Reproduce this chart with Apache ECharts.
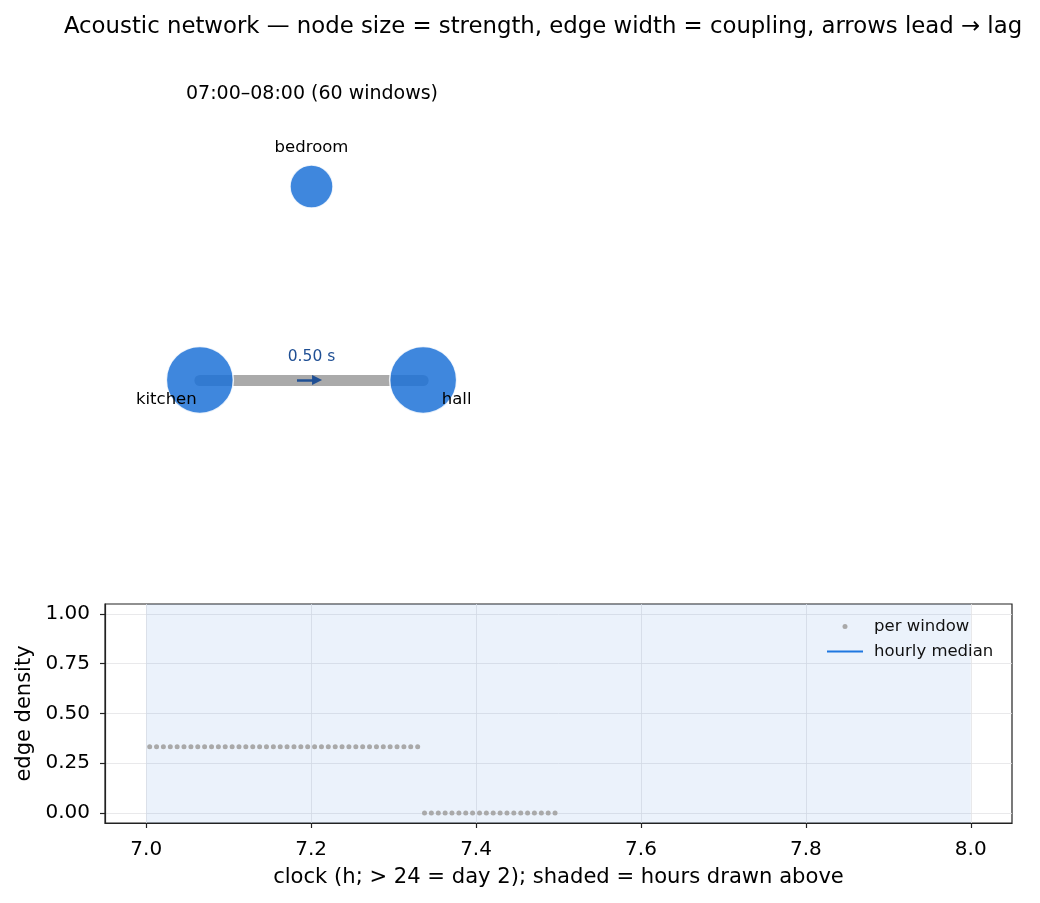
<!DOCTYPE html>
<html>
<head>
	<meta charset="utf-8">
	<title>acoustic network</title>
	<style>
		body { margin: 0; padding: 0; background: #fff; }
		#main { width: 1040px; height: 903px; }
	</style>
</head>
<body>
	<div id="main"></div>
	<script src="https://cdn.jsdelivr.net/npm/echarts@6/dist/echarts.min.js"></script>
	<script type="text/javascript">
		// network (circular layout, unit circle)
		var nodeNames = ['bedroom', 'kitchen', 'hall'];
		var nodeX = [0, -0.866, 0.866];
		var nodeY = [1, -0.5, -0.5];
		var nodeStrength = [0, 0.5, 0.5];

		// edges: lead -> lag
		var edgeFrom = [1];
		var edgeTo = [2];
		var edgeCoupling = [0.5];
		var edgeLag = [0.5];

		// edge density per window (clock hours)
		var windowHours = [
			7.0042, 7.0125, 7.0208, 7.0292, 7.0375, 7.0458, 7.0542, 7.0625, 7.0708, 7.0792,
			7.0875, 7.0958, 7.1042, 7.1125, 7.1208, 7.1292, 7.1375, 7.1458, 7.1542, 7.1625,
			7.1708, 7.1792, 7.1875, 7.1958, 7.2042, 7.2125, 7.2208, 7.2292, 7.2375, 7.2458,
			7.2542, 7.2625, 7.2708, 7.2792, 7.2875, 7.2958, 7.3042, 7.3125, 7.3208, 7.3292,
			7.3375, 7.3458, 7.3542, 7.3625, 7.3708, 7.3792, 7.3875, 7.3958, 7.4042, 7.4125,
			7.4208, 7.4292, 7.4375, 7.4458, 7.4542, 7.4625, 7.4708, 7.4792, 7.4875, 7.4958
		];
		var windowDensity = [
			0.333, 0.333, 0.333, 0.333, 0.333, 0.333, 0.333, 0.333, 0.333, 0.333,
			0.333, 0.333, 0.333, 0.333, 0.333, 0.333, 0.333, 0.333, 0.333, 0.333,
			0.333, 0.333, 0.333, 0.333, 0.333, 0.333, 0.333, 0.333, 0.333, 0.333,
			0.333, 0.333, 0.333, 0.333, 0.333, 0.333, 0.333, 0.333, 0.333, 0.333,
			0, 0, 0, 0, 0, 0, 0, 0, 0, 0,
			0, 0, 0, 0, 0, 0, 0, 0, 0, 0
		];
		var medianHours = [7.5];
		var medianDensity = [0.333];
		var shadedHours = [7, 8];

		var xTicks = [7.0, 7.2, 7.4, 7.6, 7.8, 8.0];
		var yTicks = [0, 0.25, 0.5, 0.75, 1.0];

		var myChart = echarts.init(document.getElementById('main'));
		var font = 'DejaVu Sans';

		// nodes
		var nodeData = [];
		var labelData = [];
		for (var i = 0; i < nodeNames.length; i++) {
			nodeData.push({
				name: nodeNames[i],
				value: [nodeX[i], nodeY[i]],
				symbolSize: Math.sqrt(1849 + 5280 * nodeStrength[i])
			});
			// labels sit a bit outside the circle
			labelData.push({ name: nodeNames[i], value: [nodeX[i] * 1.3, nodeY[i] * 1.3] });
		}

		// edges, arrows, lag labels
		var edgeData = [], arrowData = [], lagData = [];
		for (var j = 0; j < edgeFrom.length; j++) {
			var a = edgeFrom[j], b = edgeTo[j];
			var dx = nodeX[b] - nodeX[a], dy = nodeY[b] - nodeY[a];
			edgeData.push({
				coords: [[nodeX[a], nodeY[a]], [nodeX[b], nodeY[b]]],
				lineStyle: { width: edgeCoupling[j] * 22 }
			});
			arrowData.push({
				coords: [[nodeX[a] + dx * 0.435, nodeY[a] + dy * 0.435],
						 [nodeX[a] + dx * 0.525, nodeY[a] + dy * 0.525]]
			});
			lagData.push({ value: [nodeX[a] + dx * 0.5, nodeY[a] + dy * 0.5], lag: edgeLag[j] });
		}

		var densityData = [];
		for (var k = 0; k < windowHours.length; k++) {
			densityData.push([windowHours[k], windowDensity[k]]);
		}
		var medianData = [];
		for (var m = 0; m < medianHours.length; m++) {
			medianData.push([medianHours[m], medianDensity[m]]);
		}

		myChart.setOption({
			animation: false,
			textStyle: { fontFamily: font },
			title: [
				{
					text: 'Acoustic network — node size = strength, edge width = coupling, arrows lead → lag',
					left: 538, top: 11, textAlign: 'center',
					textStyle: { fontSize: 22.8, fontWeight: 'normal', color: '#000', fontFamily: font }
				},
				{
					text: '07:00–08:00 (60 windows)',
					left: 307, top: 80, textAlign: 'center',
					textStyle: { fontSize: 19, fontWeight: 'normal', color: '#000', fontFamily: font }
				}
			],
			legend: {
				orient: 'vertical',
				left: 826, top: 618, padding: 0,
				itemWidth: 36, itemHeight: 5, itemGap: 8,
				textStyle: { fontSize: 16.5, color: '#111', fontFamily: font, padding: [0, 0, 0, 6] },
				data: [
					{ name: 'per window' },
					{ name: 'hourly median', itemStyle: { opacity: 0 } }
				]
			},
			grid: [
				{ left: 131, top: 135, width: 361, height: 361, show: false },
				{ left: 105, top: 604, width: 907, height: 219, show: true,
				  borderColor: '#222', borderWidth: 1.2, backgroundColor: 'transparent' }
			],
			xAxis: [
				{ gridIndex: 0, type: 'value', min: -1.4, max: 1.4, show: false },
				{
					gridIndex: 1, type: 'value', min: 6.95, max: 8.05,
					name: 'clock (h; > 24 = day 2); shaded = hours drawn above',
					nameLocation: 'middle', nameGap: 44,
					nameTextStyle: { fontSize: 21.1, color: '#000', fontFamily: font },
					axisLine: { show: true, onZero: false, lineStyle: { color: '#222', width: 1.2 } },
					axisTick: { show: true, length: 5, customValues: xTicks, lineStyle: { color: '#222', width: 1.2 } },
					axisLabel: {
						customValues: xTicks, margin: 17, fontSize: 20, color: '#000', fontFamily: font,
						formatter: function (v) { return v.toFixed(1); }
					},
					splitLine: { show: true, lineStyle: { color: '#e3e3e6', width: 0.8 } }
				}
			],
			yAxis: [
				{ gridIndex: 0, type: 'value', min: -1.4, max: 1.4, show: false },
				{
					gridIndex: 1, type: 'value', min: -0.05, max: 1.05,
					name: 'edge density',
					nameLocation: 'middle', nameGap: 69,
					nameTextStyle: { fontSize: 21, color: '#000', fontFamily: font },
					axisLine: { show: true, onZero: false, lineStyle: { color: '#222', width: 1.2 } },
					axisTick: { show: true, length: 5, customValues: yTicks, lineStyle: { color: '#222', width: 1.2 } },
					axisLabel: {
						customValues: yTicks, margin: 15, fontSize: 20, color: '#000', fontFamily: font,
						formatter: function (v) { return v.toFixed(2); }
					},
					splitLine: { show: true, lineStyle: { color: '#e3e3e6', width: 0.8 } }
				}
			],
			series: [
				{
					name: 'edges', type: 'lines', coordinateSystem: 'cartesian2d',
					xAxisIndex: 0, yAxisIndex: 0, z: 1, silent: true,
					lineStyle: { color: '#aaaaaa', opacity: 1, cap: 'round' },
					data: edgeData
				},
				{
					name: 'arrows', type: 'lines', coordinateSystem: 'cartesian2d',
					xAxisIndex: 0, yAxisIndex: 0, z: 4, silent: true,
					symbol: ['none', 'triangle'], symbolSize: 10,
					lineStyle: { color: '#1f4f94', width: 2.5, opacity: 1 },
					data: arrowData
				},
				{
					name: 'nodes', type: 'scatter', xAxisIndex: 0, yAxisIndex: 0, z: 3,
					itemStyle: { color: '#1d72d7', opacity: 0.85, borderColor: '#fff', borderWidth: 1.5 },
					data: nodeData
				},
				{
					name: 'node labels', type: 'scatter', xAxisIndex: 0, yAxisIndex: 0, z: 5,
					symbolSize: 0, silent: true,
					itemStyle: { opacity: 1 },
					label: {
						show: true, position: 'inside', fontSize: 16.5, color: '#000', fontFamily: font,
						formatter: function (p) { return p.name; }
					},
					data: labelData
				},
				{
					name: 'lag labels', type: 'scatter', xAxisIndex: 0, yAxisIndex: 0, z: 5,
					symbolSize: 0, silent: true,
					itemStyle: { opacity: 1 },
					label: {
						show: true, position: 'inside', offset: [0, -23], fontSize: 15.5,
						color: '#1f4f94', fontFamily: font,
						formatter: function (p) { return p.data.lag.toFixed(2) + ' s'; }
					},
					data: lagData
				},
				{
					name: 'per window', type: 'scatter', xAxisIndex: 1, yAxisIndex: 1, z: 3,
					symbol: 'circle', symbolSize: 5,
					itemStyle: { color: '#a9a9a9', opacity: 1 },
					markArea: {
						silent: true,
						itemStyle: { color: 'rgba(30, 115, 210, 0.09)' },
						data: [[{ xAxis: shadedHours[0] }, { xAxis: shadedHours[1] }]]
					},
					data: densityData
				},
				{
					name: 'hourly median', type: 'line', xAxisIndex: 1, yAxisIndex: 1, z: 4,
					showSymbol: false, symbol: 'none',
					lineStyle: { color: '#1f77e0', width: 2 },
					itemStyle: { color: '#1f77e0' },
					data: medianData
				}
			]
		});

		window.addEventListener('resize', function () {
			myChart.resize();
		});
	</script>
</body>
</html>
